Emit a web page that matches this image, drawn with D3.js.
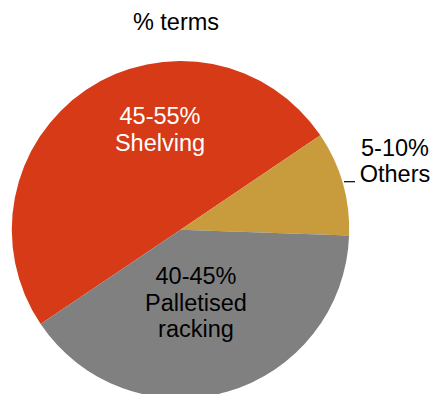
<!DOCTYPE html>
<html><head><meta charset="utf-8">
<script src="https://cdn.jsdelivr.net/npm/d3@7"></script>
<style>html,body{margin:0;padding:0;background:#fff;}svg{display:block;}</style>
</head><body>
<script>
const categories = ["Shelving", "Others", "Palletised racking"];
const values = [50, 10, 40];
const rangeLabels = ["45-55%", "5-10%", "40-45%"];
const colors = ["#D63A17", "#C89B3C", "#808080"];
const title = "% terms";

const W = 431, H = 394;
const cx = 180.5, cy = 229.7, R = 168.7;
const fs = 23.5;
const font = "Liberation Sans, Arial, Helvetica, sans-serif";

const svg = d3.select("body").append("svg").attr("width", W).attr("height", H);

const deg = Math.PI / 180;
const pie = d3.pie().sort(null).value(d => d).startAngle(236 * deg).endAngle(596 * deg);
const arcs = pie(values);
const arc = d3.arc().innerRadius(0).outerRadius(R);

const g = svg.append("g").attr("transform", `translate(${cx},${cy})`);
g.selectAll("path").data(arcs).join("path")
  .attr("d", arc).attr("fill", (d, i) => colors[i]);

svg.append("text").attr("x", 176).attr("y", 29.5).attr("text-anchor", "middle")
  .attr("font-family", font).attr("font-size", fs).attr("fill", "#000").text(title);

function label(x, y, lines, fill, lh) {
  const t = svg.append("text").attr("text-anchor", "middle")
    .attr("font-family", font).attr("font-size", fs).attr("fill", fill);
  lines.forEach((l, i) => t.append("tspan").attr("x", x).attr("y", y + i * lh).text(l));
}
label(160, 124, [rangeLabels[0], categories[0]], "#fff", 27);
label(196, 284, [rangeLabels[2], "Palletised", "racking"], "#000", 26.7);
label(395, 155.5, [rangeLabels[1], categories[1]], "#000", 26.5);

svg.append("line").attr("x1", 344).attr("x2", 355).attr("y1", 181.7).attr("y2", 181.7)
  .attr("stroke", "#000").attr("stroke-width", 1.2);
</script>
</body></html>
